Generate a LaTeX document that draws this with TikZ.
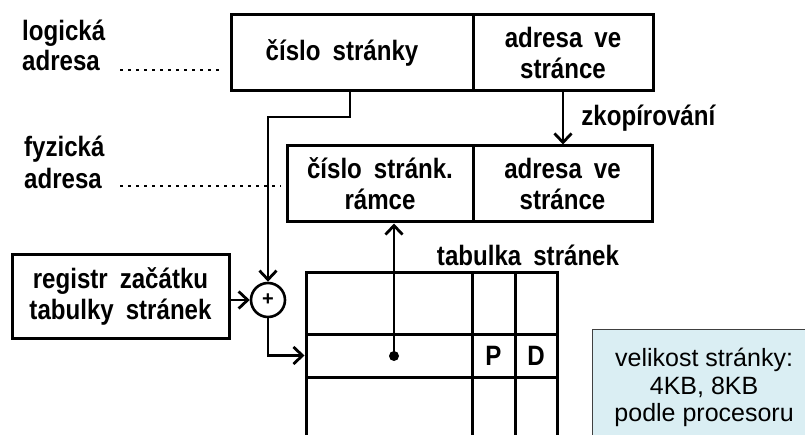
\documentclass[tikz,border=0pt]{standalone}
\usepackage{fontspec}
\setmainfont{Liberation Sans}
\newfontfamily\diafont[WordSpace=1.8,FakeStretch=0.86]{Liberation Sans}
\usetikzlibrary{arrows.meta}
\definecolor{notefill}{HTML}{DAEEF3}
\definecolor{noteline}{HTML}{404040}
\begin{document}
\begin{tikzpicture}[x=1pt,y=-1pt,
  dia/.style={font=\diafont\bfseries\fontsize{28}{31}\selectfont},
  box/.style={dia, draw, line width=3pt, inner sep=0pt, align=center},
  cell/.style={draw, line width=3pt, inner sep=0pt, dia},
  lbl/.style={dia, inner sep=0pt},
  wire/.style={line width=2.8pt},
  arr/.style={wire, -{Straight Barb[length=9pt,width=17pt]}},
  dotline/.style={line width=2.8pt, dash pattern=on 2.8pt off 5.2pt},
]
\useasboundingbox (0,0) rectangle (805,435);
\clip (0,0) rectangle (805,435);

% logical address
\node[box, minimum width=242pt, minimum height=76pt] (pg) at (352,53) {číslo stránky\hspace*{20pt}};
\node[box, minimum width=180pt, minimum height=76pt] (off) at (563,53) {adresa ve\\stránce};

% physical address
\node[box, minimum width=186pt, minimum height=76pt] (frame) at (380,184) {číslo stránk.\\rámce};
\node[box, minimum width=179pt, minimum height=76pt] (poff) at (562.5,184) {adresa ve\\stránce};

% side labels
\node[lbl, anchor=base west] (llog) at (22,41) {logická};
\node[lbl, anchor=base west] (ladr) at (22,71) {adresa};
\node[lbl, anchor=base west] (lfyz) at (24,157) {fyzická};
\node[lbl, anchor=base west] (lfadr) at (24,189) {adresa};
\draw[dotline] (120,70) -- ([xshift=-7pt]pg.west |- 0,70);
\draw[dotline] (120,186) -- ([xshift=-5pt]frame.west |- 0,186);

% page table base register and adder
\node[box, minimum width=217pt, minimum height=83pt] (reg) at (120.5,296.5) {registr začátku\\tabulky stránek};
\node[draw, circle, line width=2.6pt, minimum size=34pt, inner sep=0pt,
      font=\bfseries\fontsize{20}{20}\selectfont] (sum) at (268,300) {+};

% page table
\node[lbl] (tlbl) at (528,255) {tabulka stránek};
\node[cell, minimum width=166pt, minimum height=61pt] (r1a) at (389,303.5) {};
\node[cell, minimum width=43pt, minimum height=61pt] (r1p) at (493.5,303.5) {};
\node[cell, minimum width=42pt, minimum height=61pt] (r1d) at (536,303.5) {};
\node[cell, minimum width=166pt, minimum height=43pt] (r2a) at (389,355.5) {};
\node[cell, minimum width=43pt, minimum height=43pt] (r2p) at (493.5,355.5) {P};
\node[cell, minimum width=42pt, minimum height=43pt] (r2d) at (536,355.5) {D};
\node[cell, minimum width=166pt, minimum height=83pt] (r3a) at (389,418.5) {};
\node[cell, minimum width=43pt, minimum height=83pt] (r3p) at (493.5,418.5) {};
\node[cell, minimum width=42pt, minimum height=83pt] (r3d) at (536,418.5) {};
\node[circle, fill, inner sep=0pt, minimum size=10pt] (dot) at (394,356) {};

% connectors
\draw[arr] (pg.south -| 350,0) -- (350,117) -| (sum.north);
\draw[arr] (reg.east |- sum.west) -- (sum.west);
\draw[arr] (sum.south) |- (r2a.west);
\draw[arr] (dot.center) -- (dot |- frame.south);
\draw[arr] (off.south) -- (off.south |- poff.north)
  node[lbl, midway, right=17pt] (copy) {zkopírování};

% note
\node[draw=noteline, fill=notefill, line width=1.2pt, minimum width=223pt, minimum height=116pt,
      anchor=north west, align=center, inner sep=0pt,
      font=\fontsize{25}{27.5}\selectfont] (note) at (592,329)
      {velikost stránky:\\4KB, 8KB\\podle procesoru};
\end{tikzpicture}
\end{document}
